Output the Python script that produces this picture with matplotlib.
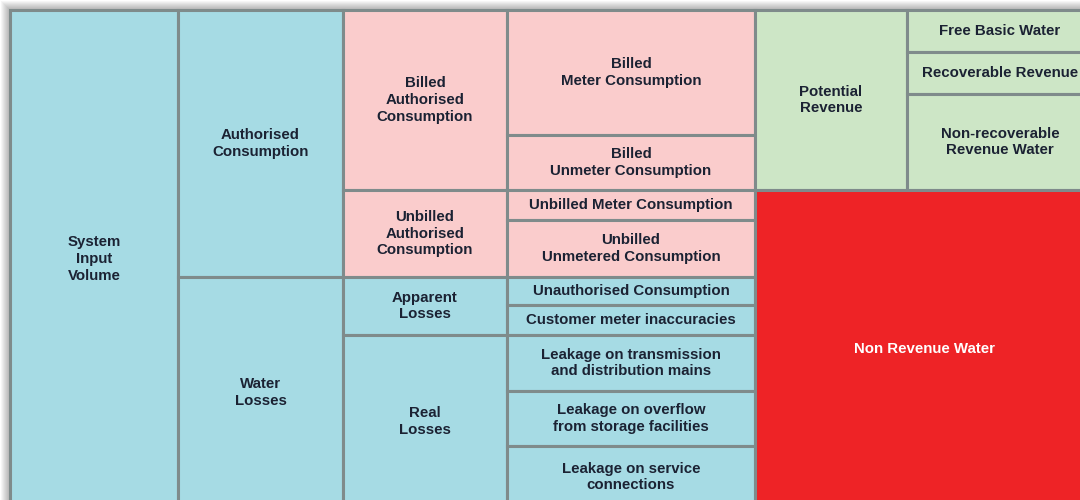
import matplotlib
matplotlib.use("Agg")
import matplotlib.pyplot as plt
from matplotlib.patches import Rectangle

# etiquetas de cada coluna (de cima para baixo)
col1 = ["System\nInput\nVolume"]
col2 = ["Authorised\nConsumption", "Water\nLosses"]
col3 = ["Billed\nAuthorised\nConsumption", "Unbilled\nAuthorised\nConsumption",
        "Apparent\nLosses", "Real\nLosses"]
col4 = ["Billed\nMeter Consumption", "Billed\nUnmeter Consumption",
        "Unbilled Meter Consumption", "Unbilled\nUnmetered Consumption",
        "Unauthorised Consumption", "Customer meter inaccuracies",
        "Leakage on transmission\nand distribution mains",
        "Leakage on overflow\nfrom storage facilities",
        "Leakage on service\nconnections"]
revenue = ["Potential\nRevenue"]
revenue_sub = ["Free Basic Water", "Recoverable Revenue",
               "Non-recoverable\nRevenue Water"]
nrw = ["Non Revenue Water"]

# cores
AZUL = "#a6dbe4"
ROSA = "#facccc"
VERDE = "#cde6c6"
VERMELHO = "#ee2326"
BORDA = "#7f8b8b"
TEXTO = "#1b2233"

# layout (pixels): limites das colunas e das linhas
xs = [10, 178, 343, 507, 755, 907, 1093]
BASE = 508
y2 = [10, 277, BASE]
y3 = [10, 190, 277, 335, BASE]
y4 = [10, 135, 190, 220, 277, 305, 335, 391, 446, BASE]
y_rev = [10, 190]
y_sub = [10, 52, 94, 190]

cores3 = [ROSA, ROSA, AZUL, AZUL]
cores4 = [ROSA, ROSA, ROSA, ROSA, AZUL, AZUL, AZUL, AZUL, AZUL]

fig = plt.figure(figsize=(10.8, 5), dpi=100)
ax = fig.add_axes([0, 0, 1, 1])
ax.set_xlim(0, 1080)
ax.set_ylim(500, 0)
ax.axis("off")

# sombra
for i in range(10):
    ax.add_patch(Rectangle((10 - i, 10 - i), 1100, 520, facecolor="black",
                           edgecolor="none", alpha=0.035, zorder=0))


def celula(x0, x1, y0, y1, cor, texto, cor_txt=TEXTO):
    ax.add_patch(Rectangle((x0, y0), x1 - x0, y1 - y0, facecolor=cor,
                           edgecolor=BORDA, linewidth=2.2, zorder=1))
    ax.text((x0 + x1) / 2, (y0 + y1) / 2, texto, ha="center", va="center",
            fontsize=10.8, fontweight="bold", color=cor_txt,
            family="Liberation Sans", linespacing=1.25, zorder=2)


celula(xs[0], xs[1], 10, BASE, AZUL, col1[0])
for i, t in enumerate(col2):
    celula(xs[1], xs[2], y2[i], y2[i + 1], AZUL, t)
for i, t in enumerate(col3):
    celula(xs[2], xs[3], y3[i], y3[i + 1], cores3[i], t)
for i, t in enumerate(col4):
    celula(xs[3], xs[4], y4[i], y4[i + 1], cores4[i], t)
celula(xs[4], xs[5], y_rev[0], y_rev[1], VERDE, revenue[0])
for i, t in enumerate(revenue_sub):
    celula(xs[5], xs[6], y_sub[i], y_sub[i + 1], VERDE, t)
celula(xs[4], xs[6], 190, BASE, VERMELHO, nrw[0], cor_txt="white")

fig.savefig("out.png", dpi=100)
